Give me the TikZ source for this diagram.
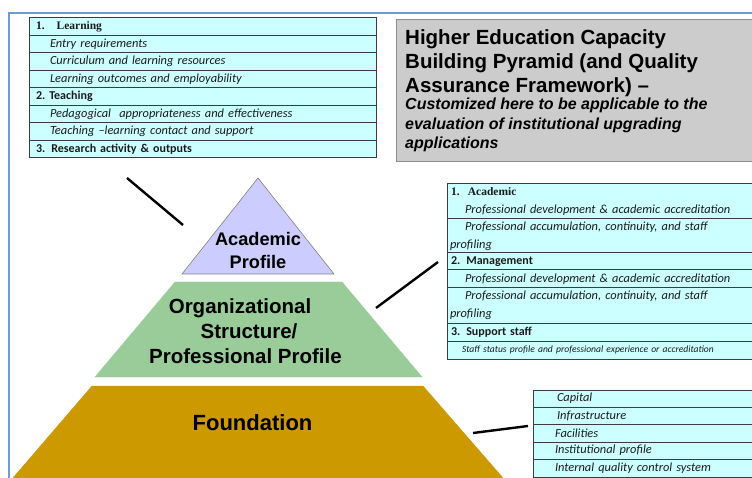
\documentclass[tikz,border=0pt]{standalone}
\usepackage{fontspec}
\setmainfont{Liberation Sans}
\newfontfamily\carl{Carlito}
\newfontfamily\serifb{Liberation Serif}
\definecolor{frameblue}{HTML}{6F9BD1}
\definecolor{cellfill}{HTML}{CCFFFF}
\definecolor{tabline}{HTML}{3C3C3C}
\definecolor{titlegray}{HTML}{CCCCCC}
\definecolor{titleline}{HTML}{8C8C8C}
\definecolor{lav}{HTML}{CCCCFF}
\definecolor{midgreen}{HTML}{99CC99}
\definecolor{found}{HTML}{CC9900}
\definecolor{txtdark}{HTML}{1A1A1A}
\tikzset{
  cell/.style={draw=tabline, line width=1pt, fill=cellfill, anchor=north west,
    inner xsep=0pt, inner ysep=0pt, outer sep=0pt, minimum width=#1, text width=#1,
    align=left, text=txtdark},
  itx/.style={font=\carl\itshape\fontsize{12.4}{18}\selectfont},
  bdx/.style={font=\carl\bfseries\fontsize{12}{14}\selectfont},
  srb/.style={font=\serifb\bfseries\fontsize{11.5}{14}\selectfont},
  titletext/.style={anchor=base west, inner sep=0pt, font=\bfseries\fontsize{20.5}{24}\selectfont},
  subtext/.style={anchor=base west, inner sep=0pt, font=\bfseries\itshape\fontsize{16}{19}\selectfont},
  pyrtext/.style={anchor=base, inner sep=0pt, font=\bfseries\fontsize{#1}{#1}\selectfont},
  connector/.style={line width=2.4pt, black},
}
\begin{document}
\begin{tikzpicture}[x=1pt,y=-1pt]
\useasboundingbox (0,0) rectangle (752,478);
\fill[white] (0,0) rectangle (752,478);
% frame
\draw[frameblue, line width=2pt] (8.5,478) -- (8.5,13.5) -- (752,13.5);

% pyramid
\begin{scope}
\clip (0,0) rectangle (752,478);
\filldraw[fill=found, draw=found] (92,386) -- (423,386) -- (510,486) -- (6,486) -- cycle;
\end{scope}
\filldraw[fill=midgreen, draw=midgreen] (175,282) -- (342,282) -- (422,377) -- (95,377) -- cycle;
\filldraw[fill=lav, draw=gray, line width=0.6pt] (258,178) -- (334,274) -- (182,274) -- cycle;

\node[pyrtext=18.2] (ap1) at (258,246) {Academic};
\node[pyrtext=18.2] (ap2) at (258,269) {Profile};
\node[pyrtext=20.5] (os1) at (240,313) {Organizational};
\node[pyrtext=20.5] (os2) at (249,338) {Structure/};
\node[pyrtext=20.5] (os3) at (245.5,363) {Professional Profile};
\node[pyrtext=22] (fd) at (252.5,430) {Foundation};

% connectors
\coordinate (c1a) at (127,178); \coordinate (c1b) at (183,225);
\coordinate (c2a) at (376,308); \coordinate (c2b) at (438,262);
\coordinate (c3a) at (473,433); \coordinate (c3b) at (528,426);
\draw[connector] (c1a) -- (c1b);
\draw[connector] (c2a) -- (c2b);
\draw[connector] (c3a) -- (c3b);

% title box
\filldraw[fill=titlegray, draw=titleline, line width=1pt] (396,20) rectangle (760,162);
\node[titletext] (t1) at (405,45) {Higher Education Capacity};
\node[titletext] (t2) at (405,69) {Building Pyramid (and Quality};
\node[titletext] (t3) at (405,93) {Assurance Framework) –};
\node[subtext] (s1) at (405,110) {Customized here to be applicable to the};
\node[subtext] (s2) at (405,130) {evaluation of institutional upgrading};
\node[subtext] (s3) at (405,149) {applications};

% table 1
\node[cell=347pt, minimum height=17.5pt, srb] (l1) at (29,18) {\hspace*{7pt}1.\hspace{12pt}Learning};
\node[cell=347pt, minimum height=17.5pt, itx] (l2) at (29,35.5) {\hspace*{21pt}Entry requirements};
\node[cell=347pt, minimum height=17.5pt, itx] (l3) at (29,53) {\hspace*{21pt}Curriculum and learning resources};
\node[cell=347pt, minimum height=17.5pt, itx] (l4) at (29,70.5) {\hspace*{21pt}Learning outcomes and employability};
\node[cell=347pt, minimum height=17.5pt, bdx] (l5) at (29,88) {\hspace*{7pt}2.\hspace{4pt}Teaching};
\node[cell=347pt, minimum height=17.5pt, itx] (l6) at (29,105.5) {\hspace*{21pt}Pedagogical\ \ appropriateness and effectiveness};
\node[cell=347pt, minimum height=17.5pt, itx] (l7) at (29,123) {\hspace*{21pt}Teaching –learning contact and support};
\node[cell=347pt, minimum height=17.5pt, bdx] (l8) at (29,140.5) {\hspace*{7pt}3. Research activity \& outputs};

% table 2
\node[cell=310pt, minimum height=35pt, itx] (a1) at (447,184)
  {\hspace*{4pt}{\serifb\bfseries\upshape\fontsize{11.5}{14}\selectfont 1.\ \ Academic}\\\hspace*{18pt}Professional development \& academic accreditation};
\node[cell=310pt, minimum height=34pt, itx] (a2) at (447,219)
  {\hspace*{18pt}Professional accumulation, continuity, and staff\\\hspace*{3pt}profiling};
\node[cell=310pt, minimum height=17pt, bdx] (a3) at (447,253) {\hspace*{4pt}2. Management};
\node[cell=310pt, minimum height=18pt, itx] (a4) at (447,270) {\hspace*{18pt}Professional development \& academic accreditation};
\node[cell=310pt, minimum height=35pt, itx] (a5) at (447,288)
  {\hspace*{18pt}Professional accumulation, continuity, and staff\\\hspace*{3pt}profiling};
\node[cell=310pt, minimum height=18pt, bdx] (a6) at (447,323) {\hspace*{4pt}3. Support staff};
\node[cell=310pt, minimum height=18pt, font=\carl\itshape\fontsize{9.6}{11}\selectfont] (a7) at (447,341)
  {\hspace*{15pt}Staff status profile and professional experience or accreditation};

% table 3
\node[cell=225pt, minimum height=17pt, itx] (f1) at (533,390) {\hspace*{24pt}Capital};
\node[cell=225pt, minimum height=17pt, itx] (f2) at (533,407) {\hspace*{24pt}Infrastructure};
\node[cell=225pt, minimum height=18pt, itx] (f3) at (533,424) {\hspace*{22pt}Facilities};
\node[cell=225pt, minimum height=17pt, itx] (f4) at (533,442) {\hspace*{22pt}Institutional profile};
\node[cell=225pt, minimum height=18pt, itx] (f5) at (533,459) {\hspace*{22pt}Internal quality control system};
\end{tikzpicture}
\end{document}
